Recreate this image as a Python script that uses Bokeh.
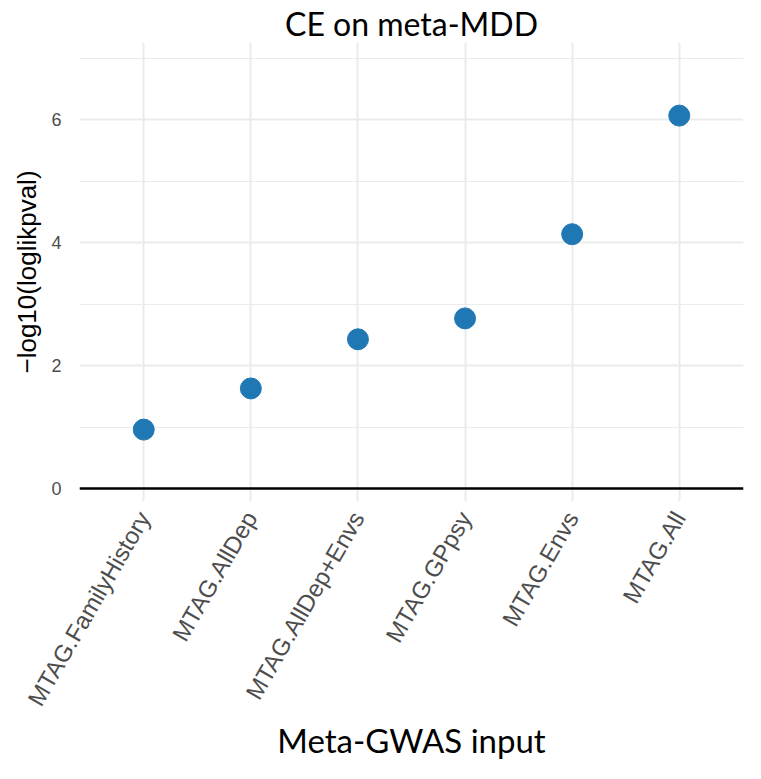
from bokeh.plotting import figure
from bokeh.models import FactorRange, Range1d, Span, FixedTicker, ColumnDataSource
from bokeh.embed import file_html
from bokeh.resources import INLINE
import math

categories = ["MTAG.FamilyHistory", "MTAG.AllDep", "MTAG.AllDep+Envs",
              "MTAG.GPpsy", "MTAG.Envs", "MTAG.All"]
values = [0.96, 1.63, 2.43, 2.77, 4.14, 6.07]
y_major_ticks = [0, 2, 4, 6]
y_minor_ticks = [1, 3, 5, 7]

src = ColumnDataSource(dict(x=categories, y=values))

p = figure(width=745, height=763, output_backend="svg", toolbar_location=None,
           x_range=FactorRange(factors=categories, range_padding=0.1,
                               range_padding_units="absolute"),
           y_range=Range1d(-0.21, 7.26),
           min_border_left=79, min_border_right=2, min_border_top=42,
           min_border_bottom=255)

p.title.text = "CE on meta-MDD"
p.title.align = "center"
p.title.text_font = "Lato"
p.title.text_font_size = "32px"
p.title.text_font_style = "normal"
p.title.text_color = "black"
p.title.offset = 0
p.title.standoff = 0

p.outline_line_color = None
p.background_fill_color = "white"
p.border_fill_color = "white"

# grids
p.xgrid.grid_line_color = "#ebebeb"
p.xgrid.grid_line_width = 2
p.ygrid.ticker = FixedTicker(ticks=y_major_ticks, minor_ticks=y_minor_ticks)
p.ygrid.grid_line_color = "#ebebeb"
p.ygrid.grid_line_width = 2
p.ygrid.minor_grid_line_color = "#ebebeb"
p.ygrid.minor_grid_line_width = 1.2

p.yaxis.ticker = FixedTicker(ticks=y_major_ticks, minor_ticks=y_minor_ticks)

for ax in (p.xaxis[0], p.yaxis[0]):
    ax.axis_line_color = None
    ax.major_tick_line_color = None
    ax.minor_tick_line_color = None
    ax.major_label_text_font = "Liberation Sans"
    ax.major_label_text_color = "#4d4d4d"

p.yaxis.major_label_text_font_size = "18px"
p.xaxis.major_label_text_font_size = "24px"

p.yaxis.axis_label = "\u2212log10(loglikpval)"
p.yaxis.axis_label_text_font = "Liberation Sans"
p.yaxis.axis_label_text_font_size = "26px"
p.yaxis.axis_label_text_font_style = "normal"
p.yaxis.axis_label_text_color = "black"
p.yaxis.major_label_standoff = 12
p.yaxis.axis_label_standoff = 6

p.xaxis.major_label_orientation = math.pi / 3
p.xaxis.major_label_standoff = 6
p.xaxis.axis_label = "Meta-GWAS input"
p.xaxis.axis_label_text_font = "Lato"
p.xaxis.axis_label_text_font_size = "33px"
p.xaxis.axis_label_text_font_style = "normal"
p.xaxis.axis_label_text_color = "black"
p.xaxis.axis_label_standoff = 0

p.add_layout(Span(location=0, dimension="width", line_color="black", line_width=2.5))

p.scatter("x", "y", source=src, size=21, fill_color="#1f78b4", line_color="#1f78b4")

open("out.html", "w").write(file_html(p, INLINE))
